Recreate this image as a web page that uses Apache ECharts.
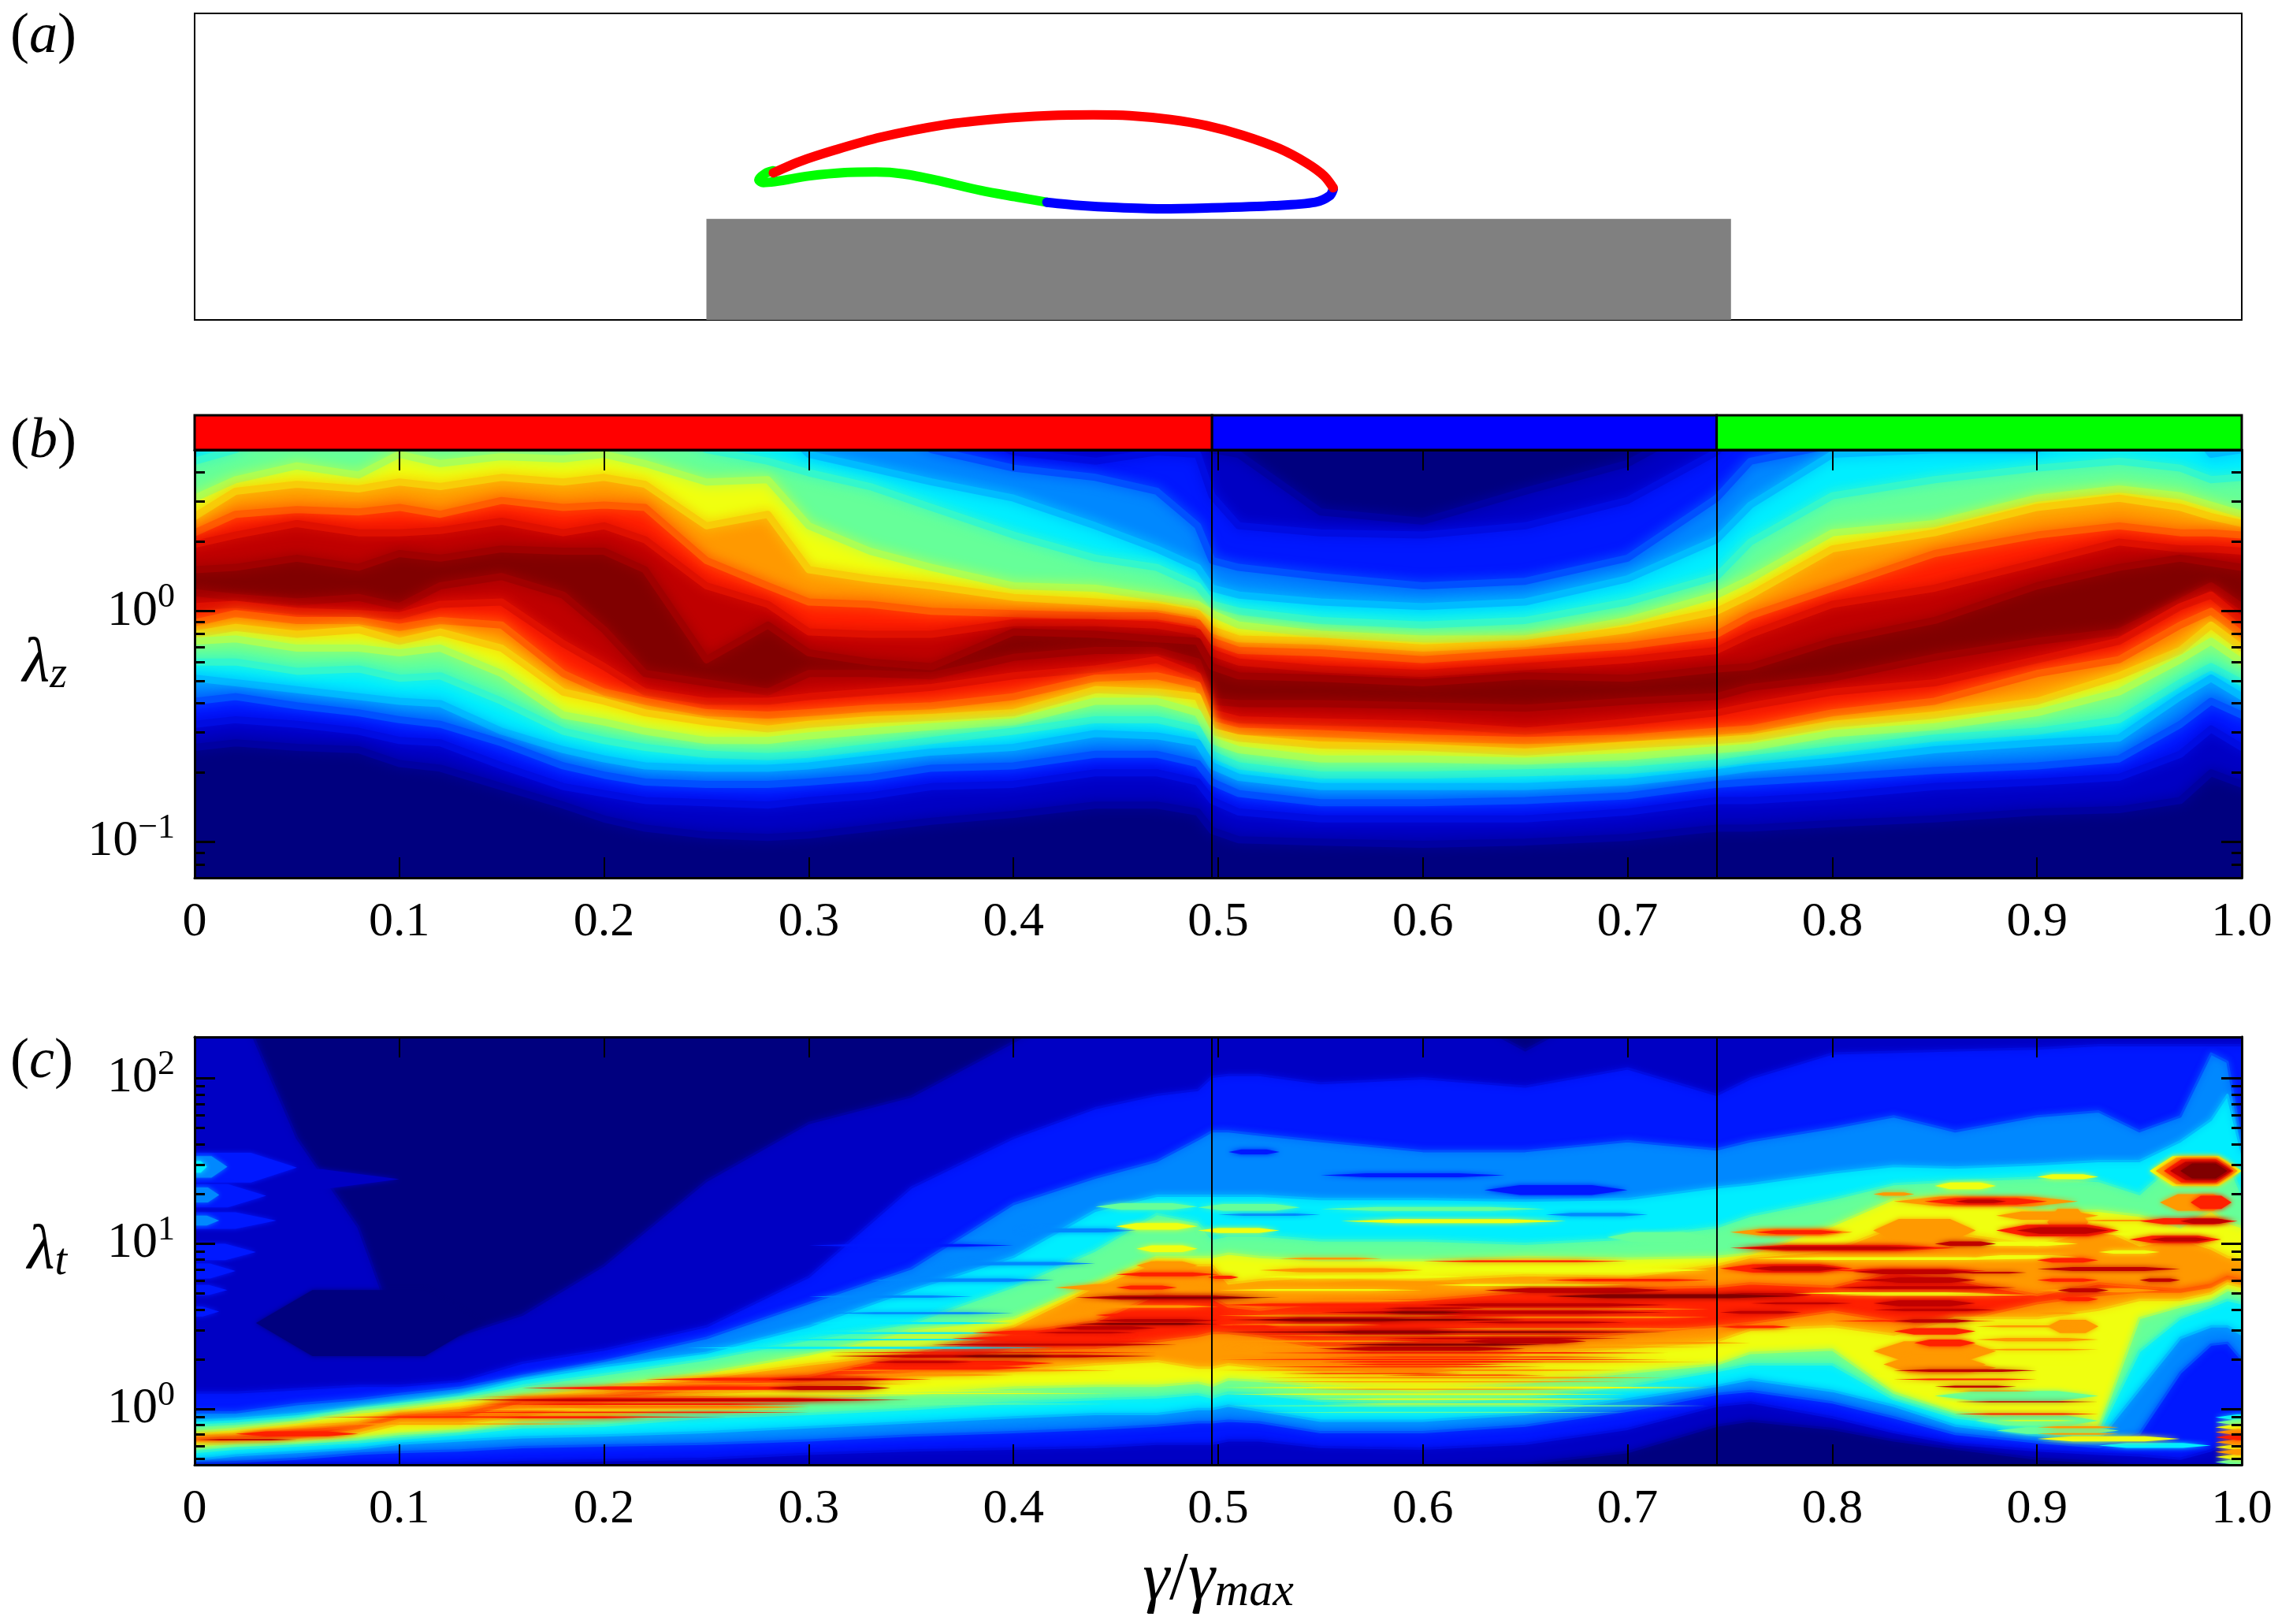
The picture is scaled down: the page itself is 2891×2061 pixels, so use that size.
<!DOCTYPE html>
<html>
<head>
<meta charset="utf-8">
<style>html,body{margin:0;padding:0;background:#fff}#main{width:2891px;height:2061px}</style>
<script src="https://cdn.jsdelivr.net/npm/echarts@6/dist/echarts.min.js"></script>
</head>
<body>
<div id="main"></div>
<script>
// panel (a): aerofoil outline and block, in fractions of the box
var redEdge = [[.2827,.4798],[.2955,.5167],[.3132,.5552],[.3353,.5964],[.3662,.6366],[.3927,.6563],[.4170,.6666],[.4391,.6692],[.4568,.6666],[.4767,.6538],[.4943,.6341],[.5120,.6024],[.5297,.5595],[.5430,.5124],[.5518,.4695],[.5562,.4310]];
var blueEdge = [[.5562,.4267],[.5545,.4053],[.5474,.3839],[.5275,.3727],[.4943,.3650],[.4722,.3624],[.4502,.3667],[.4325,.3736],[.4163,.3839]];
var greenEdge = [[.4163,.3839],[.4015,.4010],[.3839,.4224],[.3618,.4567],[.3463,.4764],[.3330,.4824],[.3176,.4807],[.2999,.4695],[.2778,.4481],[.2756,.4567],[.2789,.4781],[.2827,.4867]];
var blockBox = [.25,.7505,0,.33];

// strip above (b) and the two vertical lines
var stripEdges = [0,.497,.7435,1];
var stripColors = ['#ff0000','#0000ff','#00ff00'];
var splitLines = [.497,.7435];

var xTicks = [0,.1,.2,.3,.4,.5,.6,.7,.8,.9,1];
var zMajor = [.1,1];
var zMinor = [.08,.09,.2,.3,.4,.5,.6,.7,.8,.9,2,3,4];
var tMajor = [1,10,100];
var tMinor = [.5,.6,.7,.8,.9,2,3,4,5,6,7,8,9,20,30,40,50,60,70,80,90];

// colour levels of the contour plots
var levels = ['#00007f','#0000c4','#0018ff','#0088ff','#00eeff','#66ff99','#f0ff10','#ff9900','#ff2000','#bf0000','#800000'];

// (b) log10(lambda_z) of each contour, going down the plot
var bX = [0,.02,.05,.08,.10,.12,.15,.18,.20,.22,.25,.28,.30,.33,.36,.40,.44,.47,.49,.497,.51,.55,.60,.65,.70,.7435,.76,.80,.85,.90,.94,.97,.985,1];
var bUp1 = [.85,.85,.85,.85,.85,.85,.85,.85,.85,.85,.85,.85,.85,.85,.85,.85,.85,.85,.85,.70,.68,.43,.39,.52,.64,.85,.85,.85,.85,.85,.85,.85,.85,.85];
var bUp2 = [.85,.85,.85,.85,.85,.85,.85,.85,.85,.85,.85,.85,.85,.85,.85,.69,.65,.69,.68,.50,.37,.34,.33,.37,.48,.69,.85,.85,.85,.85,.85,.85,.85,.85];
var bUp3 = [.72,.85,.85,.85,.85,.85,.85,.85,.85,.85,.85,.85,.85,.85,.70,.62,.58,.52,.37,.22,.19,.15,.11,.13,.23,.49,.65,.72,.85,.85,.85,.85,.85,.85];
var bUp4 = [.70,.85,.85,.85,.85,.85,.85,.85,.85,.85,.85,.85,.68,.62,.56,.49,.37,.27,.19,.10,.07,.04,.02,.04,.14,.31,.46,.68,.70,.70,.85,.85,.68,.70];
var bUp5 = [.65,.70,.85,.85,.85,.85,.85,.85,.85,.85,.70,.65,.60,.54,.45,.33,.23,.19,.11,.03,.00,-.04,-.06,-.04,.04,.15,.30,.50,.57,.62,.65,.62,.57,.58];
var bUp6 = [.49,.57,.63,.59,.68,.64,.67,.66,.68,.64,.56,.57,.37,.26,.19,.11,.10,.06,.03,-.01,-.06,-.10,-.12,-.12,-.04,.07,.14,.34,.38,.49,.53,.50,.46,.42];
var bUp7 = [.41,.52,.55,.53,.56,.54,.58,.56,.58,.55,.37,.42,.18,.14,.11,.06,.04,.02,-.01,-.08,-.12,-.13,-.16,-.14,-.08,.00,.07,.27,.34,.45,.49,.45,.41,.38];
var bUp8 = [.34,.42,.44,.43,.45,.42,.48,.45,.46,.45,.22,.11,.04,.03,.00,-.01,-.02,-.02,-.05,-.13,-.17,-.18,-.21,-.18,-.15,-.10,-.02,.10,.25,.33,.37,.34,.34,.33];
var bUp9 = [.29,.33,.38,.34,.34,.35,.39,.34,.37,.31,.11,.03,-.09,-.10,-.10,-.05,-.05,-.06,-.09,-.18,-.22,-.25,-.27,-.24,-.21,-.17,-.10,.03,.10,.21,.30,.27,.27,.26];
var bUp10 = [.18,.19,.23,.19,.25,.23,.27,.26,.26,.18,-.21,-.06,-.18,-.22,-.24,-.09,-.10,-.12,-.13,-.24,-.28,-.29,-.31,-.28,-.29,-.25,-.24,-.13,-.04,.11,.19,.23,.21,.19];
var bDown10 = [.08,.06,.04,.06,.02,.11,.15,.07,-.08,-.27,-.31,-.35,-.27,-.27,-.28,-.20,-.17,-.17,-.22,-.39,-.40,-.40,-.41,-.42,-.39,-.37,-.33,-.29,-.20,-.13,-.09,.04,.11,.02];
var bDown9 = [.02,.03,.00,-.01,-.02,.03,.04,-.14,-.24,-.35,-.39,-.39,-.37,-.35,-.33,-.28,-.25,-.21,-.28,-.44,-.47,-.48,-.49,-.52,-.48,-.44,-.41,-.35,-.31,-.21,-.13,.02,.07,-.04];
var bDown8 = [-.05,-.01,-.04,-.04,-.07,-.04,-.06,-.27,-.35,-.39,-.44,-.45,-.44,-.42,-.41,-.37,-.29,-.28,-.32,-.49,-.52,-.53,-.55,-.56,-.55,-.52,-.51,-.44,-.39,-.27,-.21,-.06,.00,-.10];
var bDown7 = [-.10,-.07,-.10,-.08,-.13,-.09,-.16,-.35,-.39,-.44,-.48,-.51,-.49,-.47,-.46,-.44,-.34,-.35,-.37,-.52,-.55,-.58,-.59,-.61,-.58,-.56,-.55,-.49,-.45,-.39,-.28,-.17,-.06,-.16];
var bDown6 = [-.13,-.12,-.16,-.16,-.18,-.16,-.27,-.45,-.48,-.52,-.56,-.56,-.54,-.52,-.50,-.48,-.39,-.39,-.44,-.56,-.60,-.64,-.64,-.65,-.63,-.60,-.59,-.53,-.50,-.44,-.35,-.21,-.13,-.22];
var bDown5 = [-.22,-.22,-.26,-.25,-.29,-.28,-.39,-.52,-.56,-.59,-.62,-.63,-.62,-.59,-.56,-.52,-.47,-.47,-.51,-.62,-.67,-.71,-.71,-.70,-.69,-.66,-.64,-.60,-.55,-.52,-.47,-.31,-.24,-.31];
var bDown4 = [-.29,-.31,-.34,-.37,-.39,-.40,-.52,-.60,-.64,-.67,-.68,-.68,-.67,-.64,-.61,-.59,-.53,-.54,-.57,-.67,-.72,-.76,-.76,-.76,-.74,-.70,-.68,-.65,-.60,-.57,-.55,-.37,-.29,-.37];
var bDown3 = [-.39,-.37,-.41,-.44,-.47,-.49,-.57,-.67,-.71,-.74,-.75,-.75,-.74,-.72,-.68,-.67,-.62,-.62,-.66,-.74,-.79,-.83,-.83,-.82,-.80,-.75,-.74,-.72,-.69,-.67,-.64,-.49,-.39,-.45];
var bDown2 = [-.49,-.47,-.49,-.52,-.56,-.57,-.67,-.76,-.79,-.82,-.83,-.84,-.82,-.80,-.76,-.75,-.70,-.70,-.74,-.82,-.87,-.90,-.90,-.90,-.87,-.82,-.82,-.80,-.76,-.74,-.72,-.62,-.51,-.59];
var bDown1 = [-.59,-.57,-.59,-.60,-.66,-.68,-.76,-.84,-.90,-.94,-.97,-.98,-.97,-.94,-.91,-.88,-.84,-.84,-.87,-.95,-.99,-1.0,-1.01,-1.0,-.98,-.94,-.94,-.92,-.90,-.87,-.86,-.82,-.70,-.75];

// (c) log10(lambda_t) of each contour, going down the plot
var cX = [0,.02,.05,.08,.10,.13,.16,.20,.25,.30,.35,.40,.44,.47,.49,.497,.505,.52,.55,.60,.65,.70,.7435,.76,.80,.83,.86,.90,.93,.95,.97,.985,.993,1];
var cUp1 = [2.5,2.5,1.64,1.1,.42,.45,.57,.87,1.38,1.73,1.89,2.22,2.5,2.5,2.5,2.5,2.5,2.5,2.5,2.5,2.17,2.5,2.5,2.5,2.5,2.5,2.5,2.5,2.5,2.5,2.5,2.5,2.5,2.5];
var cUp2 = [.10,.10,.12,.14,.14,.17,.28,.36,.50,.80,1.34,1.64,1.82,1.90,1.93,2.01,2.02,2.02,1.97,2.0,1.95,2.06,1.9,2.0,2.15,2.16,2.17,2.18,2.2,2.2,2.2,2.2,2.2,2.2];
var cUp3 = [-.02,-.02,.03,.06,.09,.13,.2,.29,.43,.64,.85,1.24,1.40,1.50,1.63,1.68,1.68,1.66,1.62,1.56,1.56,1.62,1.57,1.62,1.70,1.77,1.68,1.77,1.8,1.68,1.77,2.15,2.1,1.6];
var cUp4 = [-.07,-.06,-.03,.01,.04,.09,.18,.26,.34,.50,.72,.92,1.2,1.29,1.29,1.29,1.29,1.29,1.27,1.27,1.26,1.27,1.34,1.36,1.43,1.47,1.46,1.48,1.5,1.5,1.62,1.75,1.9,1.55];
var cUp5 = [-.10,-.09,-.06,.0,.03,.07,.14,.21,.30,.42,.52,.74,.96,1.18,1.13,1.03,1.05,1.05,1.02,1.02,1.0,1.03,1.1,1.17,1.27,1.36,1.38,1.4,1.38,1.3,1.52,1.52,1.5,1.3];
var cUp6 = [-.14,-.12,-.08,-.02,.00,.05,.08,.14,.22,.33,.48,.55,.76,.92,.92,.92,.94,.92,.90,.90,.92,.91,.92,.94,1.11,1.27,1.29,1.20,1.20,1.17,1.10,1.20,1.13,1.10];
var cUp7 = [-.17,-.15,-.11,-.08,-.03,.01,.065,.10,.19,.27,.34,.50,.74,.89,.87,.87,.76,.78,.80,.78,.81,.80,.87,.92,.96,1.10,1.06,.99,1.10,.99,1.03,.97,.92,.90];
var cUp8 = [-.18,-.175,-.135,-.105,-.045,-.03,.05,.07,.15,.20,.33,.46,.53,.69,.67,.67,.62,.60,.64,.66,.71,.73,.74,.76,.74,.83,.78,.69,.76,.74,.72,.75,.80,.78];
var cDown8 = [-.19,-.185,-.17,-.115,-.05,-.045,.045,.05,.13,.17,.23,.36,.37,.41,.44,.46,.46,.44,.37,.37,.39,.46,.50,.52,.59,.53,.53,.64,.69,.71,.71,.74,.79,.77];
var cDown7 = [-.21,-.21,-.19,-.15,-.09,-.09,-.04,.03,.09,.13,.19,.23,.27,.29,.25,.25,.27,.25,.23,.23,.34,.37,.41,.48,.50,.45,.55,.55,.60,.66,.66,.70,.76,.74];
var cDown6 = [-.24,-.22,-.21,-.18,-.15,-.13,-.08,-.05,.02,.07,.09,.13,.14,.14,.16,.14,.18,.17,.14,.11,.16,.22,.27,.34,.36,.10,-.02,-.06,-.12,.55,.62,.66,.72,.70];
var cDown5 = [-.26,-.24,-.22,-.20,-.18,-.15,-.11,-.10,-.05,-.03,.00,.04,.06,.07,.09,.07,.10,.09,.05,.04,.07,.14,.23,.27,.27,.06,-.05,-.11,-.15,.35,.55,.62,.66,.64];
var cDown4 = [-.31,-.28,-.26,-.24,-.21,-.19,-.17,-.16,-.14,-.11,-.08,-.05,-.03,-.03,.00,.00,.02,-.01,-.07,-.07,-.03,.06,.14,.18,.11,.02,-.10,-.16,-.19,.12,.43,.50,.50,.45];
var cDown3 = [-.33,-.32,-.30,-.27,-.26,-.25,-.23,-.22,-.21,-.19,-.16,-.14,-.12,-.10,-.08,-.08,-.07,-.08,-.14,-.14,-.10,-.01,.09,.11,.04,-.05,-.15,-.20,-.23,-.15,.22,.39,.40,.30];
var cDown2 = [-.35,-.35,-.35,-.35,-.35,-.34,-.32,-.31,-.30,-.27,-.25,-.24,-.23,-.21,-.21,-.21,-.19,-.19,-.23,-.24,-.21,-.12,.02,.04,-.05,-.14,-.21,-.25,-.27,-.28,-.30,-.25,-.20,-.05];
var cDown1 = [-.35,-.35,-.35,-.35,-.35,-.35,-.35,-.35,-.35,-.35,-.35,-.35,-.35,-.35,-.35,-.35,-.35,-.35,-.35,-.35,-.33,-.26,-.10,-.07,-.12,-.19,-.24,-.30,-.32,-.35,-.35,-.35,-.35,-.25];

// (c) streaks and patches on top of the contours: gamma from, gamma to, log10(lambda_t), half height, level
var cStreaks = [
  [.03,.14,.52,.2,0],
  [-.05,.10,1.39,.06,1],[-.04,.05,1.46,.09,2],[-.015,.016,1.465,.065,3],[-.006,.006,1.465,.035,4],
  [-.04,.035,1.29,.07,2],[-.01,.012,1.295,.045,3],[-.04,.04,1.14,.05,2],[-.012,.012,1.14,.03,3],
  [-.03,.03,.95,.05,2],[-.03,.02,.835,.045,2],[-.02,.016,.72,.03,2],[-.02,.012,.59,.03,2],
  [.02,.08,-.15,.015,8],[.00,.05,-.185,.004,9],[.06,.26,-.048,.004,8],[.05,.2,-.09,.003,7],
  [.12,.3,-.02,.004,8],[.13,.35,.055,.006,9],[.14,.3,.03,.005,8],[.14,.27,.075,.004,7],
  [.14,.34,.056,.012,8],[.14,.22,-.05,.006,8],[.16,.3,.012,.008,7],[.16,.33,.127,.01,8],
  [.28,.34,.127,.012,9],[.2,.35,.153,.005,7],[.22,.36,.18,.009,8],[.28,.34,.18,.006,9],
  [.31,.4,.206,.006,7],[.31,.45,.233,.006,7],[.32,.41,.25,.012,8],[.33,.42,.277,.015,8],
  [.33,.38,.285,.006,9],[.33,.47,.303,.006,7],[.31,.47,.342,.003,8],[.31,.47,.32,.008,9],
  [.37,.42,.32,.006,10],[.36,.48,.39,.006,9],[.4,.47,.41,.006,8],[.37,.46,.427,.012,8],
  [.38,.46,.462,.012,8],[.41,.46,.462,.005,9],[.42,.47,.49,.01,9],[.43,.5,.515,.006,10],
  [.44,.5,.536,.008,9],[.44,.5,.568,.015,8],[.43,.5,.62,.008,7],[.43,.52,.674,.012,9],
  [.44,.53,.674,.004,10],[.42,.5,.735,.02,7],[.45,.48,.735,.012,8],[.45,.5,.815,.012,8],
  [.46,.49,.868,.025,7],[.40,.46,1.08,.012,3],[.44,.49,1.225,.02,5],[.45,.49,1.105,.02,6],[.46,.49,.97,.02,6],
  [.2,.42,.11,.003,6],[.25,.45,.095,.003,6],[.14,.3,.0,.004,6],[.3,.46,.17,.004,6],[.2,.34,.075,.003,6],
  [.2,.4,.045,.003,5],[.25,.45,.03,.003,5],[.24,.42,.37,.006,4],[.27,.4,.42,.004,4],[.29,.4,.46,.005,4],
  [.3,.4,.52,.005,4],[.31,.4,.58,.006,3],[.3,.38,.68,.007,3],[.33,.42,.78,.01,3],[.36,.44,.88,.01,3],[.3,.4,.99,.008,2],
  [.63,.72,.718,.015,9],[.66,.78,.683,.012,10],[.6,.72,.63,.01,9],[.5,.6,.63,.008,8],
  [.55,.72,.585,.01,9],[.58,.62,.585,.006,10],[.58,.63,.61,.005,9],[.505,.65,.54,.006,10],
  [.52,.6,.54,.012,9],[.62,.7,.524,.006,9],[.5,.53,.497,.01,8],[.5,.72,.466,.005,10],
  [.55,.62,.466,.012,9],[.58,.7,.427,.004,9],[.62,.68,.41,.015,9],[.56,.66,.39,.006,10],
  [.55,.65,.365,.012,9],[.52,.72,.34,.004,8],[.55,.66,.286,.005,8],[.56,.62,.233,.01,7],
  [.55,.62,.76,.012,7],[.66,.74,.78,.008,8],[.52,.6,.84,.012,7],[.6,.7,.894,.005,8],
  [.53,.58,.91,.006,7],[.495,.51,.797,.01,8],
  [.5,.6,.655,.006,7],[.6,.74,.605,.005,7],[.5,.62,.565,.006,7],[.62,.74,.555,.005,7],[.5,.58,.51,.006,7],
  [.6,.74,.485,.005,7],[.52,.7,.445,.004,7],[.5,.6,.41,.005,7],[.66,.76,.40,.006,7],[.5,.74,.375,.004,7],
  [.52,.62,.80,.01,6],[.62,.74,.84,.012,6],[.5,.6,.72,.005,6],[.6,.7,.75,.006,6],
  [.5,.72,.30,.004,8],[.55,.7,.315,.003,8],[.52,.66,.255,.003,8],[.56,.64,.27,.004,8],[.53,.62,.215,.003,8],[.58,.66,.205,.003,8],
  [.5,.74,.285,.004,7],[.5,.7,.235,.005,7],[.52,.72,.19,.004,7],[.52,.7,.165,.003,7],[.54,.68,.12,.003,7],
  [.5,.74,.13,.006,6],[.5,.7,.09,.004,6],[.54,.7,.06,.004,6],[.55,.68,.03,.003,6],[.5,.74,.02,.004,5],[.52,.7,-.02,.003,5],
  [.76,.805,.85,.014,9],[.745,.81,.85,.025,8],[.762,.805,1.07,.012,8],[.75,.81,1.07,.02,7],
  [.755,.85,.974,.01,9],[.75,.86,.974,.018,8],[.85,.88,1.0,.014,9],[.82,.87,1.08,.07,7],
  [.845,.905,1.256,.02,8],[.83,.92,1.256,.03,7],[.86,.885,1.256,.01,9],[.82,.84,1.30,.01,7],
  [.88,.93,1.17,.025,7],[.89,.935,1.08,.02,9],[.88,.94,1.08,.035,8],[.905,.925,1.13,.08,7],
  [.955,.985,1.026,.012,9],[.945,.99,1.026,.022,8],[.97,.995,1.136,.015,9],[.95,.998,1.136,.018,8],
  [.92,.97,1.14,.005,7],[.96,.995,1.25,.05,7],[.975,.995,1.25,.04,8],
  [.955,1.0,1.44,.09,6],[.958,.998,1.44,.08,7],[.962,.996,1.44,.07,8],[.965,.995,1.44,.055,9],[.97,.993,1.44,.045,10],
  [.9,.93,1.405,.015,6],[.85,.88,1.35,.02,6],
  [.81,.87,.83,.014,9],[.82,.87,.78,.016,9],[.8,.89,.735,.008,9],[.82,.87,.64,.018,9],
  [.82,.88,.6,.008,9],[.83,.87,.533,.01,9],[.8,.88,.533,.004,8],[.83,.87,.47,.02,8],[.84,.87,.4,.02,8],
  [.83,.9,.233,.008,9],[.83,.9,.18,.005,8],[.85,.89,.136,.006,9],[.86,.9,.11,.003,7],
  [.86,.93,.044,.004,9],[.86,.93,-.03,.005,8],[.9,.94,-.11,.006,7],[.9,.94,-.15,.005,7],
  [.88,.92,-.07,.003,6],[.87,.93,.0,.003,6],[.82,.9,.2,.03,6],[.85,.93,.08,.03,5],
  [.87,.93,-.07,.03,5],[.88,.94,-.13,.02,5],
  [.9,.97,.847,.012,9],[.9,.93,.9,.014,8],[.9,.93,.78,.01,8],[.95,.97,.78,.01,9],
  [.91,.935,.718,.012,9],[.9,.96,.718,.012,7],[.91,.93,.665,.012,8],[.9,.92,.58,.005,7],
  [.8,.875,.838,.01,8],[.86,.895,.825,.005,9],[.81,.87,.78,.008,9],[.745,.79,.69,.012,9],
  [.76,.81,.64,.006,9],[.745,.785,.585,.008,9],[.745,.78,.497,.008,8],
  [.76,.9,.91,.008,6],[.78,.88,.70,.006,6],[.8,.9,.69,.004,6],[.87,.92,.92,.01,6],[.86,.92,1.0,.012,6],[.93,.96,.95,.01,6],[.93,.99,1.06,.01,6],
  [.82,.88,.35,.06,7],[.825,.875,.27,.05,7],[.83,.875,.16,.05,6],[.83,.88,.25,.03,7],[.9,.935,.42,.09,6],[.905,.93,.5,.04,7],
  [.87,.93,.42,.01,7],[.87,.92,.5,.006,7],[.87,.93,.36,.005,7],[.87,.92,.3,.005,6],
  [.987,1.03,-.32,.018,5],[.987,1.03,-.29,.018,6],[.987,1.03,-.26,.018,7],[.987,1.03,-.23,.018,6],[.987,1.03,-.20,.018,7],
  [.987,1.03,-.17,.018,8],[.987,1.03,-.14,.018,7],[.987,1.03,-.11,.018,6],[.987,1.03,-.08,.018,5],[.987,1.03,-.05,.018,4],
  [.9,.97,-.18,.015,6],[.93,.985,-.22,.015,4],
  [.505,.53,1.555,.015,2],[.55,.64,1.414,.012,2],[.63,.7,1.325,.03,2],
  [.66,.71,1.176,.01,3],[.5,.55,1.176,.007,3],[.64,.69,1.1,.02,4],
  [.55,.66,1.21,.012,5],[.49,.54,1.22,.02,5],[.56,.67,1.136,.012,6],[.49,.53,1.08,.015,6],[.69,.74,1.04,.03,5]
];

var serif = 'Liberation Serif';

function mix(a, b) {
  var out = '#';
  for (var i = 1; i < 7; i += 2) {
    var v = Math.round((parseInt(a.substr(i, 2), 16) + parseInt(b.substr(i, 2), 16)) / 2);
    out += (v < 16 ? '0' : '') + v.toString(16);
  }
  return out;
}

// one filled polygon per contour, painted from the top of the plot downwards
function contourSeries(xs, rows, axes, edgeWidth, edgeBlur) {
  var yMin = yAxes[axes[1]].min;
  return rows.map(function (row) {
    var color = levels[row[1]];
    var edge = mix(levels[row[1]], levels[row[2]]);
    return {
      type: 'custom',
      xAxisIndex: axes[0],
      yAxisIndex: axes[1],
      silent: true,
      clip: true,
      renderItem: function (params, api) {
        var pts = [api.coord([-.02, Math.pow(10, row[0][0])])];
        row[0].forEach(function (e, i) { pts.push(api.coord([xs[i], Math.pow(10, e)])); });
        pts.push(api.coord([1.02, Math.pow(10, row[0][row[0].length - 1])]));
        pts.push(api.coord([1.02, yMin / 2]));
        pts.push(api.coord([-.02, yMin / 2]));
        return {
          type: 'polygon',
          shape: { points: pts },
          style: { fill: color, stroke: edge, lineWidth: edgeWidth, lineJoin: 'round', shadowBlur: edgeBlur, shadowColor: edge }
        };
      },
      data: [[.5, 1]]
    };
  });
}

function streakPolygon(params, api) {
  var g0 = api.value(0), g1 = api.value(1), e = api.value(2), h = api.value(3);
  var w = (g1 - g0) / 4;
  var pts = [[g0, e], [g0 + w, e + h], [g1 - w, e + h], [g1, e], [g1 - w, e - h], [g0 + w, e - h]];
  var fill = levels[api.value(4)];
  return {
    type: 'polygon',
    shape: { points: pts.map(function (p) { return api.coord([p[0], Math.pow(10, p[1])]); }) },
    style: { fill: fill, shadowBlur: 6, shadowColor: fill }
  };
}

function xLabel(v) { return v === 0 ? '0' : v.toFixed(1); }
function powerLabel(v) { return '{n|10}{s|' + Math.round(Math.log10(v)).toString().replace('-', '\u2212') + '}'; }

var powerRich = {
  n: { fontFamily: serif, fontSize: 64, color: '#000' },
  s: { fontFamily: serif, fontSize: 44, color: '#000', padding: [0, 0, 34, 0] }
};

var grids = [
  { left: 247, top: 17, width: 2598, height: 389, show: true, borderColor: '#000', borderWidth: 2 },
  { left: 247, top: 527, width: 2598, height: 44 },
  { left: 247, top: 571, width: 2598, height: 543 },
  { left: 247, top: 1316, width: 2598, height: 543 }
];

var xAxes = [
  { gridIndex: 0, type: 'value', min: 0, max: 1, show: false },
  { gridIndex: 1, type: 'value', min: 0, max: 1, show: false }
];
var yAxes = [
  { gridIndex: 0, type: 'value', min: 0, max: 1, show: false },
  { gridIndex: 1, type: 'value', min: 0, max: 1, show: false }
];

function addXAxis(grid, position, labels, name) {
  xAxes.push({
    gridIndex: grid, type: 'value', position: position, min: 0, max: 1, z: 20,
    name: name || '', nameLocation: 'middle', nameGap: 102,
    nameTextStyle: { rich: {
      g: { fontFamily: serif, fontStyle: 'italic', fontSize: 86, color: '#000' },
      d: { fontFamily: serif, fontSize: 86, color: '#000' },
      m: { fontFamily: serif, fontStyle: 'italic', fontSize: 60, color: '#000', padding: [30, 0, 0, 0] }
    } },
    axisLine: { onZero: false, lineStyle: { color: '#000', width: 3 } },
    axisTick: { inside: true, length: 26, customValues: xTicks, lineStyle: { color: '#000', width: 2 } },
    axisLabel: { show: labels, customValues: xTicks, formatter: xLabel, margin: 26, fontFamily: serif, fontSize: 62, color: '#000', showMaxLabel: true, showMinLabel: true },
    splitLine: { show: false }
  });
  return xAxes.length - 1;
}

function addYAxis(grid, position, min, max, ticks, tickLength, labels, name) {
  yAxes.push({
    gridIndex: grid, type: 'log', logBase: 10, position: position, min: min, max: max, z: 20,
    name: name || '', nameLocation: 'middle', nameRotate: 0, nameGap: 162,
    nameTextStyle: { rich: {
      l: { fontFamily: serif, fontStyle: 'italic', fontSize: 80, color: '#000' },
      z: { fontFamily: serif, fontStyle: 'italic', fontSize: 56, color: '#000', padding: [30, 0, 0, 0] }
    } },
    axisLine: { onZero: false, lineStyle: { color: '#000', width: 3 } },
    axisTick: { inside: true, length: tickLength, customValues: ticks, lineStyle: { color: '#000', width: 3 } },
    axisLabel: { show: labels, customValues: ticks, formatter: powerLabel, margin: 25, rich: powerRich },
    splitLine: { show: false },
    minorTick: { show: false }
  });
  return yAxes.length - 1;
}

function addHeatAxes(grid, min, max, major, minor, name, xName) {
  var x = addXAxis(grid, 'bottom', true, xName);
  addXAxis(grid, 'top', false);
  var y = addYAxis(grid, 'left', min, max, major, 26, true, name);
  addYAxis(grid, 'left', min, max, minor, 13, false);
  addYAxis(grid, 'right', min, max, major, 26, false);
  addYAxis(grid, 'right', min, max, minor, 13, false);
  return [x, y];
}

var bAxes = addHeatAxes(2, .07, 5, zMajor, zMinor, '{l|\u03bb}{z|z}');
var cAxes = addHeatAxes(3, .46, 178, tMajor, tMinor, '{l|\u03bb}{z|t}', '{g|\u03b3}{d|/}{g|\u03b3}{m|max}');

var bRows = [
  [bUp1,1,0],[bUp2,2,1],[bUp3,3,2],[bUp4,4,3],[bUp5,5,4],[bUp6,6,5],[bUp7,7,6],[bUp8,8,7],[bUp9,9,8],[bUp10,10,9],
  [bDown10,9,10],[bDown9,8,9],[bDown8,7,8],[bDown7,6,7],[bDown6,5,6],[bDown5,4,5],[bDown4,3,4],[bDown3,2,3],[bDown2,1,2],[bDown1,0,1]
];
var cRows = [
  [cUp1,1,0],[cUp2,2,1],[cUp3,3,2],[cUp4,4,3],[cUp5,5,4],[cUp6,6,5],[cUp7,7,6],[cUp8,8,7],
  [cDown8,7,8],[cDown7,6,7],[cDown6,5,6],[cDown5,4,5],[cDown4,3,4],[cDown3,2,3],[cDown2,1,2],[cDown1,0,1]
];

function plotBackground(axes) {
  return {
    type: 'custom', xAxisIndex: axes[0], yAxisIndex: axes[1], silent: true, clip: true,
    renderItem: function (params, api) {
      var a = api.coord([0, yAxes[axes[1]].min]);
      var b = api.coord([1, yAxes[axes[1]].max]);
      return { type: 'rect', shape: { x: a[0], y: b[1], width: b[0] - a[0], height: a[1] - b[1] }, style: { fill: levels[0] } };
    },
    data: [[.5, 1]]
  };
}

function splitSeries(axes) {
  return {
    type: 'line', xAxisIndex: axes[0], yAxisIndex: axes[1], data: [], silent: true, z: 15,
    markLine: {
      silent: true, symbol: 'none', animation: false, precision: 4, label: { show: false },
      lineStyle: { color: '#000', width: 2, type: 'solid' },
      data: splitLines.map(function (v) { return { xAxis: v }; })
    }
  };
}

function edgeSeries(data, color) {
  return {
    type: 'line', xAxisIndex: 0, yAxisIndex: 0, data: data, symbol: 'none', smooth: .3, silent: true,
    lineStyle: { color: color, width: 12, cap: 'round', join: 'round' }, z: 5
  };
}

var series = [
  {
    type: 'custom', xAxisIndex: 0, yAxisIndex: 0, silent: true,
    renderItem: function (params, api) {
      var a = api.coord([api.value(0), api.value(2)]);
      var b = api.coord([api.value(1), api.value(3)]);
      return { type: 'rect', shape: { x: a[0], y: b[1], width: b[0] - a[0], height: a[1] - b[1] }, style: { fill: '#808080' } };
    },
    data: [blockBox]
  },
  edgeSeries(greenEdge, '#00ff00'),
  edgeSeries(blueEdge, '#0000ff'),
  edgeSeries(redEdge, '#ff0000')
];

series.push({
  type: 'custom', xAxisIndex: 1, yAxisIndex: 1, silent: true,
  renderItem: function (params, api) {
    var a = api.coord([api.value(0), 0]);
    var b = api.coord([api.value(1), 1]);
    return {
      type: 'rect',
      shape: { x: a[0], y: b[1], width: b[0] - a[0], height: a[1] - b[1] },
      style: { fill: stripColors[params.dataIndex], stroke: '#000', lineWidth: 3 }
    };
  },
  data: stripColors.map(function (c, i) { return [stripEdges[i], stripEdges[i + 1]]; })
});

series.push(plotBackground(bAxes));
series = series.concat(contourSeries(bX, bRows, bAxes, 9, 16));
series.push(splitSeries(bAxes));
series.push(plotBackground(cAxes));
series = series.concat(contourSeries(cX, cRows, cAxes, 3, 8));
series.push({
  type: 'custom', xAxisIndex: cAxes[0], yAxisIndex: cAxes[1], silent: true, clip: true, z: 3,
  renderItem: streakPolygon,
  data: cStreaks.slice().sort(function (a, b) { return a[4] - b[4]; })
});
series.push(splitSeries(cAxes));

function letter(ch, top) {
  return {
    text: '{r|(}{i|' + ch + '}{r|)}', left: 8, top: top,
    textStyle: { fontWeight: 'normal', rich: {
      r: { fontFamily: serif, fontWeight: 'normal', fontSize: 72, color: '#000' },
      i: { fontFamily: serif, fontWeight: 'normal', fontStyle: 'italic', fontSize: 72, color: '#000' }
    } }
  };
}

var chart = echarts.init(document.getElementById('main'));
chart.setOption({
  animation: false,
  backgroundColor: '#fff',
  title: [letter('a', 6), letter('b', 520), letter('c', 1307)],
  grid: grids,
  xAxis: xAxes,
  yAxis: yAxes,
  series: series
});
</script>
</body>
</html>
